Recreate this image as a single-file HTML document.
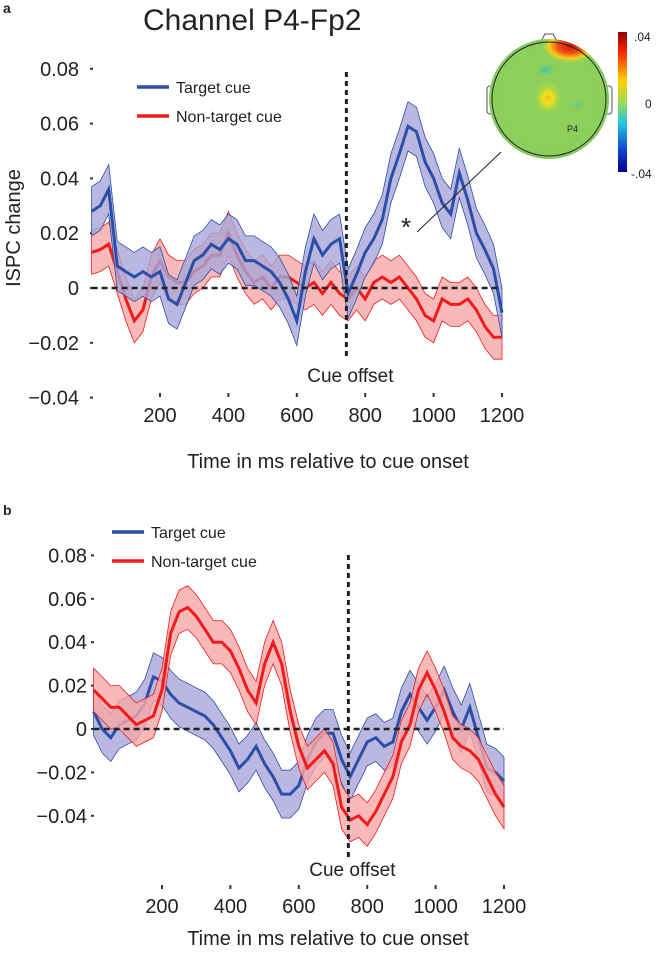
<!DOCTYPE html>
<html><head><meta charset="utf-8"><style>
html,body{margin:0;padding:0;background:#fff;}
svg text{font-family:"Liberation Sans",sans-serif;fill:#222;}
</style></head><body>
<svg id="fig" width="660" height="951" viewBox="0 0 660 951" xmlns="http://www.w3.org/2000/svg">
<defs>
<radialGradient id="topo" cx="0.5" cy="0.5" r="0.5">
<stop offset="0" stop-color="#8fd15a"/><stop offset="0.95" stop-color="#8ccf5c"/><stop offset="1" stop-color="#7cc860"/>
</radialGradient>
<radialGradient id="yel" cx="0.5" cy="0.5" r="0.5">
<stop offset="0" stop-color="#f5c020"/><stop offset="0.3" stop-color="#f2e21a"/><stop offset="1" stop-color="#8fd15a" stop-opacity="0"/>
</radialGradient>
<radialGradient id="red" cx="0.5" cy="0.5" r="0.5">
<stop offset="0" stop-color="#d81010"/><stop offset="0.4" stop-color="#f05010"/><stop offset="0.7" stop-color="#f2d020"/><stop offset="1" stop-color="#8fd15a" stop-opacity="0"/>
</radialGradient>
<radialGradient id="cy" cx="0.5" cy="0.5" r="0.5">
<stop offset="0" stop-color="#40c0b8"/><stop offset="1" stop-color="#8fd15a" stop-opacity="0"/>
</radialGradient>
<clipPath id="headclip"><circle cx="549" cy="99" r="60"/></clipPath>
<linearGradient id="cbar" x1="0" y1="0" x2="0" y2="1">
<stop offset="0" stop-color="#8b0000"/><stop offset="0.15" stop-color="#ff2a00"/><stop offset="0.35" stop-color="#ffd000"/><stop offset="0.5" stop-color="#9fdc50"/><stop offset="0.65" stop-color="#22c8e0"/><stop offset="0.85" stop-color="#1040d0"/><stop offset="1" stop-color="#00008f"/>
</linearGradient>
</defs>
<g id="pa"></g>
<g id="pb"></g>
<g>
<rect x="487" y="86" width="8" height="28" rx="3" fill="#fff" stroke="#555" stroke-width="1"/>
<rect x="604" y="86" width="8" height="28" rx="3" fill="#fff" stroke="#555" stroke-width="1"/>
<path d="M540 43 L545 34 L553 34 L558 43 Z" fill="#fff" stroke="#555"/>
<circle cx="549" cy="99" r="60" fill="url(#topo)"/>
<g clip-path="url(#headclip)">
<ellipse cx="570" cy="46" rx="30" ry="18" fill="url(#red)"/>
<ellipse cx="546" cy="70" rx="12" ry="8" fill="url(#cy)"/>
<ellipse cx="548" cy="98" rx="16" ry="18" fill="url(#yel)"/>
<ellipse cx="578" cy="105" rx="10" ry="8" fill="url(#cy)" opacity="0.5"/>
</g>
<circle cx="549" cy="99" r="57" fill="none" stroke="#222" stroke-width="1"/>
<text x="567" y="132" font-size="9">P4</text>
<rect x="618" y="32" width="9" height="140" fill="url(#cbar)"/>
<text x="634" y="41" font-size="12">.04</text>
<text x="645" y="108" font-size="12">0</text>
<text x="631" y="178" font-size="12">-.04</text>
<line x1="417" y1="232" x2="501" y2="152" stroke="#222" stroke-width="1"/>
<text x="401" y="236" font-size="26">*</text>
</g>
<text x="143" y="30" font-size="30">Channel P4-Fp2</text>
<text x="3" y="13" font-size="14" font-weight="bold">a</text>
<text x="3" y="515" font-size="14" font-weight="bold">b</text>
<text transform="translate(20,228) rotate(-90)" text-anchor="middle" font-size="20">ISPC change</text>
</svg>
<script>
const times = [0,25,50,75,100,125,150,175,200,225,250,275,300,325,350,375,400,425,450,475,500,525,550,575,600,625,650,675,700,725,750,775,800,825,850,875,900,925,950,975,1000,1025,1050,1075,1100,1125,1150,1175,1200];
const aTarget = [0.028,0.030,0.036,0.008,0.006,0.004,0.006,0.004,0.006,-0.004,-0.006,0.002,0.010,0.012,0.016,0.014,0.018,0.016,0.010,0.010,0.008,0.006,0.002,-0.004,-0.012,0.006,0.018,0.012,0.016,0.018,-0.002,0.005,0.013,0.018,0.025,0.040,0.049,0.059,0.057,0.046,0.040,0.031,0.027,0.042,0.032,0.020,0.014,0.007,-0.009];
const aNonTarget = [0.013,0.014,0.016,0.006,-0.004,-0.012,-0.008,0.004,0.010,0.004,0.002,0.002,0.006,0.008,0.012,0.012,0.020,0.012,0.006,0.002,0.004,0.000,0.004,0.004,0.002,0.000,0.002,-0.002,0.002,-0.002,-0.004,0.000,-0.004,0.002,0.004,0.002,0.004,0.000,-0.004,-0.010,-0.012,-0.004,-0.006,-0.006,-0.004,-0.008,-0.014,-0.018,-0.018];
const bTarget = [0.008,0.000,-0.004,0.002,0.004,0.006,0.012,0.024,0.022,0.016,0.012,0.010,0.008,0.006,0.002,-0.004,-0.010,-0.018,-0.014,-0.008,-0.016,-0.022,-0.030,-0.030,-0.026,-0.014,-0.006,-0.002,-0.002,-0.014,-0.022,-0.014,-0.006,-0.004,-0.008,-0.006,0.008,0.016,0.010,0.004,0.010,0.018,0.008,0.000,0.010,-0.004,-0.018,-0.020,-0.024];
const bNonTarget = [0.018,0.014,0.010,0.010,0.006,0.002,0.004,0.006,0.018,0.044,0.054,0.056,0.052,0.046,0.040,0.040,0.036,0.028,0.018,0.012,0.030,0.040,0.030,0.008,-0.008,-0.018,-0.014,-0.010,-0.016,-0.036,-0.042,-0.040,-0.044,-0.038,-0.030,-0.022,-0.006,0.002,0.018,0.026,0.018,0.008,-0.004,-0.008,-0.010,-0.014,-0.022,-0.030,-0.036];
const aErr = [0.009,0.008];
const bErr = [0.011,0.010];
const yTicks = [0.08,0.06,0.04,0.02,0,-0.02,-0.04];
const yTickLabels = ["0.08","0.06","0.04","0.02","0","\u22120.02","\u22120.04"];
const xTicks = [200,400,600,800,1000,1200];
const cueOffset = 745;

const NS="http://www.w3.org/2000/svg";
function mk(tag, parent, attrs){const e=document.createElementNS(NS,tag);for(const k in attrs)e.setAttribute(k,attrs[k]);parent.appendChild(e);return e;}

function panel(g, cfg){
  const x=t=>cfg.x0+(t-200)*cfg.xs;
  const y=v=>cfg.y0-v*cfg.ys;
  yTicks.forEach((v,i)=>{
    const t=mk('text',g,{x:cfg.lx,y:y(v)+7,'text-anchor':'end','font-size':20});
    t.textContent=yTickLabels[i];
    
    
    const m=mk('line',g,{x1:cfg.dx,x2:cfg.dx+3,y1:y(v),y2:y(v),stroke:'#333','stroke-width':2});
    
    
  });
  xTicks.forEach(t=>{
    const m=mk('line',g,{x1:x(t),x2:x(t),y1:cfg.tickY,y2:cfg.tickY+4,stroke:'#333','stroke-width':2});
    
    
    const l=mk('text',g,{x:x(t),y:cfg.labY,'text-anchor':'middle','font-size':20});
    l.textContent=t;
    
    
  });
  const xt=mk('text',g,{x:328,y:cfg.titleY,'text-anchor':'middle','font-size':20});
  xt.textContent='Time in ms relative to cue onset';
  
  
  const series=[
    {vals:cfg.red,err:cfg.err[1],fill:'#f7a8a8',line:'#f01c1c',name:'non-target'},
    {vals:cfg.blue,err:cfg.err[0],fill:'#a9a6d8',line:'#2b4fa8',name:'target'}];
  if(cfg.blueFirst) series.reverse();
  series.forEach(s=>{
    let up='',lo='';
    times.forEach((t,i)=>{up+=(i?'L':'M')+x(t).toFixed(1)+' '+y(s.vals[i]+s.err).toFixed(1);});
    for(let i=times.length-1;i>=0;i--){lo+='L'+x(times[i]).toFixed(1)+' '+y(s.vals[i]-s.err).toFixed(1);}
    const b=mk('path',g,{d:up+lo+'Z',fill:s.fill,'fill-opacity':0.8,stroke:s.line,'stroke-width':0.8});
    
    
    const p=mk('path',g,{d:times.map((t,i)=>(i?'L':'M')+x(t).toFixed(1)+' '+y(s.vals[i]).toFixed(1)).join(''),fill:'none',stroke:s.line,'stroke-width':3});
    
    
  });
  const z=mk('line',g,{x1:x(0),x2:x(1200),y1:y(0),y2:y(0),stroke:'#222','stroke-width':2.5,'stroke-dasharray':'6 4'});
  
  
  const c=mk('line',g,{x1:x(cueOffset),x2:x(cueOffset),y1:cfg.cueTop,y2:cfg.cueBot,stroke:'#222','stroke-width':3,'stroke-dasharray':'5 4'});
  
  
  const ct=mk('text',g,{x:x(cueOffset)+4,y:cfg.cueTextY,'text-anchor':'middle','font-size':19});
  ct.textContent='Cue offset';
  
  
  [['Target cue','#2b4fa8',0],['Non-target cue','#f01c1c',1]].forEach(([txt,col,i])=>{
    const ly=cfg.legY+i*29;
    const ll=mk('line',g,{x1:cfg.legX,x2:cfg.legX+32,y1:ly,y2:ly,stroke:col,'stroke-width':3.5});
    
    
    const lt=mk('text',g,{x:cfg.legX+39,y:ly+6,'font-size':16});
    lt.textContent=txt;
    
    
  });
}
panel(document.getElementById('pa'),{x0:160,xs:0.342,y0:288,ys:2740,lx:79,dx:90,tickY:393,labY:422,titleY:468,blue:aTarget,red:aNonTarget,err:aErr,cueTop:72,cueBot:357,cueTextY:382,legX:137,legY:87,blueFirst:false});
panel(document.getElementById('pb'),{x0:162,xs:0.342,y0:729,ys:2170,lx:87,dx:91,tickY:885,labY:913,titleY:945,blue:bTarget,red:bNonTarget,err:bErr,cueTop:555,cueBot:858,cueTextY:876,legX:112,legY:532,blueFirst:true});
</script>
</body></html>
